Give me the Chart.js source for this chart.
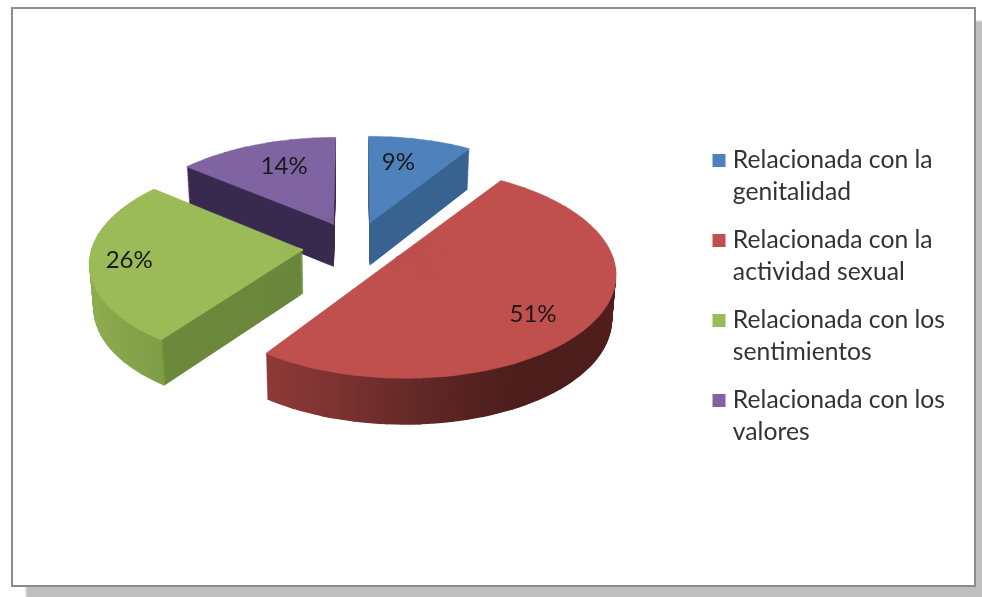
<!DOCTYPE html>
<html><head><meta charset="utf-8">
<script src="https://cdn.jsdelivr.net/npm/chart.js@4"></script>
<style>
html,body{margin:0;padding:0;background:#fff;overflow:hidden}
#frame{position:absolute;left:11px;top:7px;width:961px;height:576px;border:2px solid #8c8c8c;background:#fff;box-shadow:15px 14px 2px #bfbfbf}
canvas{position:absolute;left:0;top:0;filter:blur(0.5px)}
</style></head><body>
<div id="frame"></div>
<canvas id="c" width="982" height="597"></canvas>
<script>
const categories = [
  ['Relacionada con la','genitalidad'],
  ['Relacionada con la','actividad sexual'],
  ['Relacionada con los','sentimientos'],
  ['Relacionada con los','valores']
];
const values = [9, 51, 26, 14];
const topColors = ['#4f81bd','#c0504d','#9bbb59','#8064a2'];
const wallStops = [
  [[0,'#38628f'],[1,'#38628f']],
  [[0,'#903b39'],[0.18,'#903b39'],[0.35,'#7d3331'],[0.55,'#5f2725'],[0.75,'#4b1d1b'],[1,'#501e1c']],
  [[0,'#8fae50'],[0.205,'#7f9d46'],[0.21,'#6b883b'],[1,'#66833a']],
  [[0,'#38294e'],[1,'#38294e']]
];
const drawOrder = [3,0,2,1];
const labelRadius = [0.69,0.755,0.815,0.70];
const labelTurnDeg = [-3.3,6,0,3];
const explode = 0.25;
const cam = {cx:355.5, cy:246.5, F:211, G:101, p:0.11, h:43.5, taper:0.015};
const wedgeStep = 8*Math.PI/180;

function project(X,Y,z){
  const w = 1+cam.p*Y;
  let x = cam.cx+cam.F*X/w, y = cam.cy-cam.G*Y/w;
  x = cam.cx+(x-cam.cx)*(1-cam.taper*z);
  y += z*cam.h*(1-0.06*Y);
  return [x,y];
}
function affine(L,T){
  const [a,b,c]=L,[p,q,r]=T;
  const ux=b[0]-a[0],uy=b[1]-a[1],vx=c[0]-a[0],vy=c[1]-a[1];
  const det=ux*vy-uy*vx;
  const A=((q[0]-p[0])*vy-(r[0]-p[0])*uy)/det;
  const C=((r[0]-p[0])*ux-(q[0]-p[0])*vx)/det;
  const B=((q[1]-p[1])*vy-(r[1]-p[1])*uy)/det;
  const D=((r[1]-p[1])*ux-(q[1]-p[1])*vx)/det;
  return [A,B,C,D,p[0]-A*a[0]-C*a[1],p[1]-B*a[0]-D*a[1]];
}
function paintSlice(ctx,arc,z,fill,edge){
  const mid=(arc.startAngle+arc.endAngle)/2, R=arc.outerRadius;
  const ex=explode*Math.cos(mid), ey=-explode*Math.sin(mid);
  const rim=t=>[arc.x+R*Math.cos(t),arc.y+R*Math.sin(t)];
  const rimT=t=>project(ex+Math.cos(t),ey-Math.sin(t),z);
  let apex=project(ex,ey,z);
  if(arc.circumference>Math.PI){
    const s=rimT(arc.startAngle),e=rimT(arc.endAngle);
    const dx=e[0]-s[0],dy=e[1]-s[1];
    const u=((apex[0]-s[0])*dx+(apex[1]-s[1])*dy)/(dx*dx+dy*dy);
    apex=[s[0]+u*dx,s[1]+u*dy];
  }
  const n=Math.ceil(arc.circumference/wedgeStep);
  const opts=Object.create(arc.options);
  opts.backgroundColor=fill; opts.offset=0;
  opts.borderWidth=edge?1:0; opts.borderColor=fill;
  for(let k=0;k<n;k++){
    const t0=arc.startAngle+arc.circumference*k/n, t1=arc.startAngle+arc.circumference*(k+1)/n;
    const m=affine([[arc.x,arc.y],rim(t0),rim(t1)],[apex,rimT(t0),rimT(t1)]);
    const view=Object.create(arc);
    const over=k<n-1?0.01:0;
    view.options=opts;
    view.startAngle=t0; view.endAngle=t1+over; view.circumference=t1+over-t0;
    ctx.save();
    ctx.transform(m[0],m[1],m[2],m[3],m[4],m[5]);
    arc.draw.call(view,ctx);
    ctx.restore();
  }
}
const pie3d={
  id:'pie3d',
  beforeDatasetDraw(chart){
    const ctx=chart.ctx, arcs=chart.getDatasetMeta(0).data;
    drawOrder.forEach(i=>{
      const arc=arcs[i], R=arc.outerRadius;
      const g=ctx.createLinearGradient(arc.x-R,0,arc.x+R,0);
      wallStops[i].forEach(s=>g.addColorStop(s[0],s[1]));
      const n=46;
      for(let k=n;k>0;k--) paintSlice(ctx,arc,k/n,g,false);
      paintSlice(ctx,arc,0,topColors[i],true);
    });
    ctx.save();
    ctx.font='24px Lato';ctx.fillStyle='#1a1a1a';ctx.textAlign='center';ctx.textBaseline='middle';
    arcs.forEach((arc,i)=>{
      const mid=(arc.startAngle+arc.endAngle)/2, t=mid+labelTurnDeg[i]*Math.PI/180;
      const p=project(explode*Math.cos(mid)+labelRadius[i]*Math.cos(t),
                      -explode*Math.sin(mid)-labelRadius[i]*Math.sin(t),0);
      ctx.fillText(values[i]+'%',p[0],p[1]);
    });
    ctx.restore();
    return false;
  }
};
new Chart(document.getElementById('c'),{
  type:'pie',
  data:{labels:categories,datasets:[{data:values,backgroundColor:topColors,borderWidth:0}]},
  plugins:[pie3d],
  options:{
    responsive:false,animation:false,
    layout:{padding:{right:27,top:2,bottom:0}},
    plugins:{
      tooltip:{enabled:false},
      legend:{
        position:'right',
        labels:{
          color:'#333',
          font:{family:'Lato',size:24.7,lineHeight:1.27},
          boxWidth:3,boxHeight:3,padding:17.3,
          generateLabels(chart){
            return categories.map((t,i)=>({text:t,fillStyle:topColors[i],strokeStyle:topColors[i],lineWidth:10,index:i,hidden:false,fontColor:'#333'}));
          }
        }
      }
    }
  }
});
</script>
</body></html>
